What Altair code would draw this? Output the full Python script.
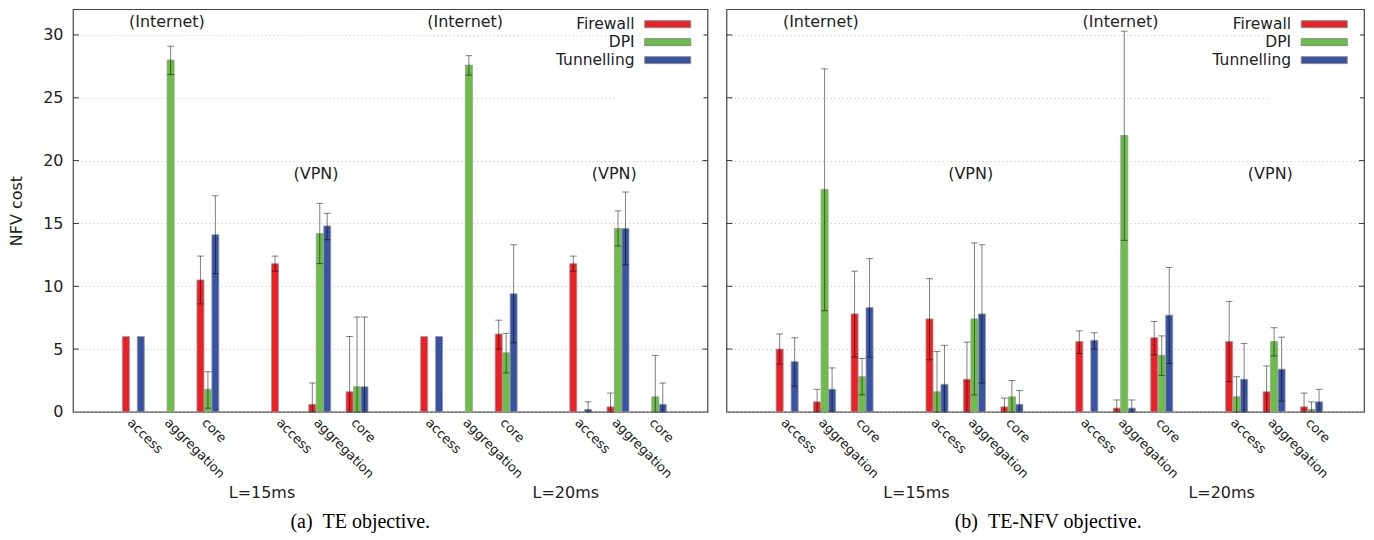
import altair as alt
import pandas as pd

services = ["Firewall", "DPI", "Tunnelling"]
colors = ["#ec2026", "#6bbe47", "#3953a4"]
categories = ["access", "aggregation", "core"]
groups = ["(Internet)", "(VPN)", "(Internet)", "(VPN)"]
group_label_y = [31.0, 18.9, 31.0, 18.9]
latency = ["L=15ms", "L=20ms"]
y_ticks = [0, 5, 10, 15, 20, 25, 30]
N = None

# order: Internet L=15 (access, aggregation, core), VPN L=15, Internet L=20, VPN L=20
# each row: [Firewall, DPI, Tunnelling]
te_mean = [
    [6.0, 0.0, 6.0], [0.0, 28.0, 0.0], [10.5, 1.8, 14.1],
    [11.8, 0.0, 0.0], [0.6, 14.2, 14.8], [1.6, 2.0, 2.0],
    [6.0, 0.0, 6.0], [0.0, 27.6, 0.0], [6.2, 4.7, 9.4],
    [11.8, 0.0, 0.2], [0.4, 14.6, 14.6], [0.0, 1.2, 0.6],
]
te_lo = [
    [N, N, N], [N, 26.85, N], [8.6, 0.3, 11.0],
    [11.2, N, N], [0.0, 11.8, 13.7], [0.0, 0.0, 0.0],
    [N, N, N], [N, 26.8, N], [5.0, 3.1, 5.5],
    [11.2, N, 0.0], [0.0, 13.2, 11.7], [N, 0.0, 0.0],
]
te_hi = [
    [N, N, N], [N, 29.1, N], [12.4, 3.2, 17.2],
    [12.4, N, N], [2.3, 16.6, 15.8], [6.0, 7.55, 7.55],
    [N, N, N], [N, 28.35, N], [7.3, 6.25, 13.3],
    [12.4, N, 0.8], [1.5, 16.0, 17.5], [N, 4.5, 2.3],
]

nfv_mean = [
    [5.0, 0.0, 4.0], [0.8, 17.7, 1.8], [7.8, 2.8, 8.3],
    [7.4, 1.6, 2.2], [2.6, 7.4, 7.8], [0.4, 1.2, 0.6],
    [5.6, 0.0, 5.7], [0.3, 22.0, 0.3], [5.9, 4.5, 7.7],
    [5.6, 1.2, 2.6], [1.6, 5.6, 3.4], [0.4, 0.2, 0.8],
]
nfv_lo = [
    [3.8, N, 2.05], [0.0, 8.05, 0.05], [4.35, 1.35, 4.35],
    [4.15, 0.0, 0.0], [0.0, 1.35, 2.3], [0.0, 0.0, 0.0],
    [4.65, N, 5.0], [0.0, 13.65, 0.0], [4.55, 2.9, 3.85],
    [2.4, 0.0, 0.0], [0.0, 4.45, 0.85], [0.0, 0.0, 0.0],
]
nfv_hi = [
    [6.2, N, 5.9], [1.8, 27.3, 3.5], [11.2, 4.25, 12.2],
    [10.6, 4.8, 5.3], [5.55, 13.45, 13.3], [1.1, 2.5, 1.7],
    [6.45, N, 6.3], [0.95, 30.3, 0.95], [7.2, 6.05, 11.5],
    [8.8, 2.8, 5.45], [3.65, 6.7, 5.95], [1.5, 0.8, 1.8],
]

FONT = "DejaVu Sans"
H = 403
X_DOMAIN = [-1.62, 15.4]
BAR_HALF = 0.094
CAP_HALF = 0.09


def build(mean, lo, hi):
    rows = []
    for g in range(4):
        for c in range(3):
            k = g * 3 + c
            for s in range(3):
                pos = 4 * g + c + (s - 1) * 0.2
                rows.append(dict(service=services[s], pos=pos,
                                 xl=pos - BAR_HALF, xr=pos + BAR_HALF,
                                 cl=pos - CAP_HALF, cr=pos + CAP_HALF,
                                 mean=mean[k][s], lo=lo[k][s], hi=hi[k][s]))
    return pd.DataFrame(rows)


def panel(mean, lo, hi, width, show_y, caption, dx):
    df = build(mean, lo, hi)
    bars_df = df[df["mean"] > 0]
    err_df = df[df["lo"].notna()]

    xscale = alt.Scale(domain=X_DOMAIN, nice=False, zero=False)
    yscale = alt.Scale(domain=[0, 32.05], nice=False, zero=True)
    label_expr = "[" + ",".join("'%s'" % c for c in categories) + ",''][datum.value % 4]"
    slots = [4 * g + c for g in range(4) for c in range(3)]
    xaxis = alt.Axis(values=slots, labelExpr=label_expr, labelAngle=45,
                     labelAlign="left", labelBaseline="top", labelPadding=4,
                     labelOffset=0,
                     ticks=False, domain=False, grid=False, title=None,
                     labelFont=FONT, labelFontSize=13, labelColor="#222",
                     labelOverlap=False, labelFlush=False, labelBound=False)
    if show_y:
        yaxis = alt.Axis(values=y_ticks, grid=True, gridDash=[1, 3], gridColor="#bdbdbd",
                         ticks=False, domain=False, labelPadding=10, labelFont=FONT,
                         labelFontSize=16, labelColor="#222", title="NFV cost",
                         titleFont=FONT, titleFontSize=16, titleFontWeight="normal",
                         titleColor="#222", titlePadding=18)
    else:
        yaxis = alt.Axis(values=y_ticks, grid=True, gridDash=[1, 3], gridColor="#bdbdbd",
                         ticks=False, domain=False, labels=False, title=None)

    legend = alt.Legend(orient="top-right", title="\u00a0", titleOrient="bottom",
                        titleFontSize=30, titlePadding=10,
                        symbolType="M2.33,-0.42H7.91V0.42H2.33ZM8.86,0",
                        symbolSize=272, symbolOffset=0,
                        symbolStrokeColor="#888", symbolStrokeWidth=1,
                        symbolOpacity=1,
                        labelAlign="right", labelOffset=0, labelFont=FONT,
                        labelFontSize=15.5, labelColor="#222",
                        fillColor="white", padding=2, offset=4, rowPadding=-2)

    bars = alt.Chart(bars_df).mark_bar(stroke="#999", strokeWidth=0.8, opacity=1).encode(
        x=alt.X("xl:Q", scale=xscale, axis=xaxis),
        x2="xr",
        y=alt.Y("mean:Q", scale=yscale, axis=yaxis),
        y2=alt.datum(0),
        color=alt.Color("service:N", scale=alt.Scale(domain=services, range=colors),
                        legend=legend),
    )
    stems = alt.Chart(err_df).mark_rule(color="black", opacity=0.5, strokeWidth=1).encode(
        x=alt.X("pos:Q", scale=xscale, axis=xaxis),
        y=alt.Y("lo:Q", scale=yscale, axis=yaxis),
        y2="hi",
    )
    cap_lo = alt.Chart(err_df).mark_rule(color="black", opacity=0.5, strokeWidth=1).encode(
        x=alt.X("cl:Q", scale=xscale, axis=xaxis), x2="cr",
        y=alt.Y("lo:Q", scale=yscale, axis=yaxis),
    )
    cap_hi = alt.Chart(err_df).mark_rule(color="black", opacity=0.5, strokeWidth=1).encode(
        x=alt.X("cl:Q", scale=xscale, axis=xaxis), x2="cr",
        y=alt.Y("hi:Q", scale=yscale, axis=yaxis),
    )

    glab = pd.DataFrame({"text": groups,
                         "x": [4 * g + 1 - 0.1 for g in range(4)],
                         "y": group_label_y})
    group_text = alt.Chart(glab).mark_text(font=FONT, fontSize=16, color="#222",
                                           baseline="middle").encode(
        x=alt.X("x:Q", scale=xscale, axis=xaxis),
        y=alt.Y("y:Q", scale=yscale, axis=yaxis),
        text="text:N",
    )
    llab = pd.DataFrame({"text": latency, "x": [3.45, 11.6]})
    lat_text = alt.Chart(llab).mark_text(font=FONT, fontSize=16, color="#222",
                                         baseline="middle").encode(
        x=alt.X("x:Q", scale=xscale, axis=xaxis),
        y=alt.value(H + 81),
        text="text:N",
    )

    tdf = pd.DataFrame({"v": y_ticks[1:]})
    ticks_l = alt.Chart(tdf).mark_rule(color="#333", strokeWidth=1).encode(
        y=alt.Y("v:Q", scale=yscale, axis=yaxis),
        x=alt.value(0), x2=alt.value(6),
    )
    ticks_r = alt.Chart(tdf).mark_rule(color="#333", strokeWidth=1).encode(
        y=alt.Y("v:Q", scale=yscale, axis=yaxis),
        x=alt.value(width - 5), x2=alt.value(width),
    )

    return alt.layer(bars, stems, cap_lo, cap_hi, group_text, lat_text, ticks_l, ticks_r).properties(
        width=width, height=H,
        title=alt.TitleParams(text=caption, orient="bottom", anchor="middle",
                              font="Liberation Serif", fontSize=20, fontWeight="normal",
                              color="black", offset=11, dx=dx),
    )


pa = panel(te_mean, te_lo, te_hi, 635, True, "(a)\u00a0\u00a0TE objective.", -30)
pb = panel(nfv_mean, nfv_lo, nfv_hi, 638, False, "(b)\u00a0\u00a0TE-NFV objective.", 3)

chart = alt.hconcat(pa, pb, spacing=15).resolve_legend(color="independent").properties(
    padding={"left": 0, "top": 0, "right": 0, "bottom": 0},
    background="white",
).configure_view(stroke="#444", strokeWidth=1.2)

chart.save("out.html", embed_options={"renderer": "svg", "actions": False})
